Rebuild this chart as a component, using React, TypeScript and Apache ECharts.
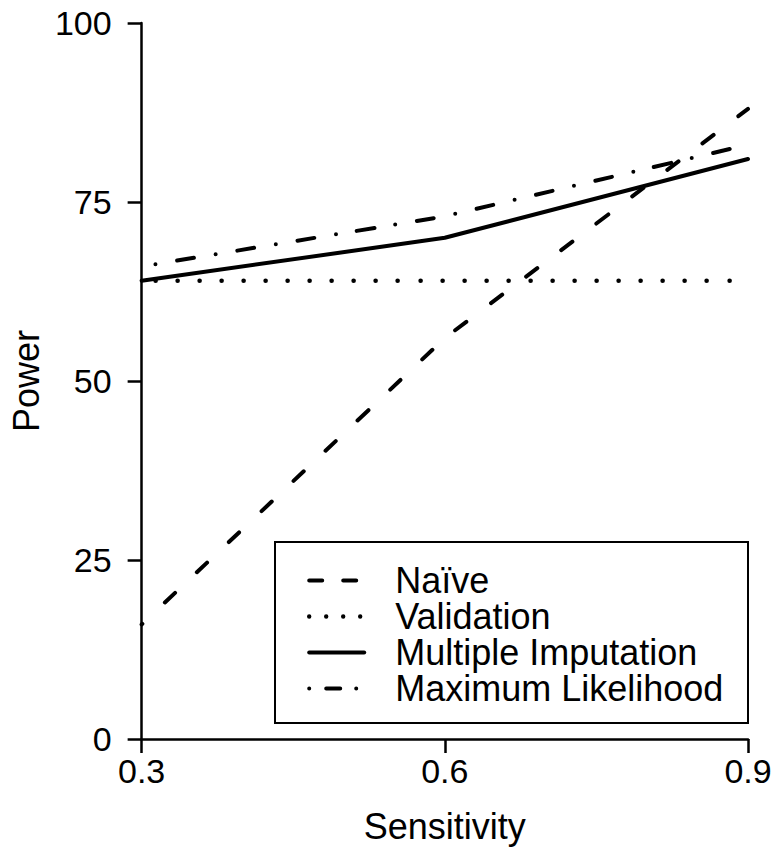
import React, { useEffect, useRef } from 'react';
import * as echarts from 'echarts';

const sensitivity = ['0.3', '0.6', '0.9'];
const naive = [16, 56, 88];
const validation = [64, 64, 64];
const multipleImputation = [64, 70, 81];
const maximumLikelihood = [66, 73, 83];
const yMin = 0;
const yMax = 100;
const yStep = 25;
const seriesNames = ['Naïve', 'Validation', 'Multiple Imputation', 'Maximum Likelihood'];

const FONT = '"Liberation Sans", Arial, Helvetica, sans-serif';
const LW = 4;

// Line-style helper: dash intervals (along the stroke) -> integer dash array + offset.
function dashFrom(intervals: number[][]) {
  const iv = intervals.map(([s, e]) => [Math.round(s), Math.round(e)]);
  const arr: number[] = [];
  for (let i = 0; i < iv.length; i++) {
    arr.push(iv[i][1] - iv[i][0]);
    arr.push(i < iv.length - 1 ? iv[i + 1][0] - iv[i][1] : 2000);
  }
  const T = arr.reduce((a, b) => a + b, 0);
  const offset = (((T - iv[0][0]) % T) + T) % T;
  return { type: arr, dashOffset: offset };
}

function repeatIntervals(first: number, period: number, parts: number[][], count: number) {
  const out: number[][] = [];
  for (let k = 0; k < count; k++) {
    const base = first + period * k;
    parts.forEach(([a, b]) => out.push([base + a, base + b]));
  }
  return out;
}

export default function App() {
  const ref = useRef<HTMLDivElement>(null);
  useEffect(() => {
    if (!ref.current) return;
    const chart = echarts.init(ref.current, null, { renderer: 'svg' });
    const axisLine = { show: true, lineStyle: { color: '#000', width: 2.5 } };
    const axisTick = { show: true, length: 14, lineStyle: { color: '#000', width: 2.5 } };
    const mkLine = (dash: any, width = LW) => ({
      color: '#000',
      width,
      dashOffset: 0,
      ...(dash === 'solid' ? { type: 'solid' } : dash),
      cap: 'round',
      join: 'round',
    });
    const plotStyles = [
      mkLine(dashFrom(repeatIntervals(-12.7, 44.3, [[0, 14.1]], 20))),
      mkLine(dashFrom(repeatIntervals(13.7, 22.07, [[0, 0]], 29)), 4.6),
      mkLine('solid'),
      mkLine(dashFrom(repeatIntervals(14.2, 60.8, [[0, 0], [21.75, 39.05]], 11))),
    ];
    const legendStyles = [
      mkLine({ type: [13, 21], dashOffset: 0 }),
      mkLine({ type: [0, 17], dashOffset: 0 }, 4.4),
      mkLine('solid'),
      mkLine({ type: [0, 17, 14, 16], dashOffset: 0 }),
    ];
    const values = [naive, validation, multipleImputation, maximumLikelihood];
    chart.setOption({
      animation: false,
      backgroundColor: '#fff',
      textStyle: { fontFamily: FONT, color: '#000' },
      grid: { left: 138, right: 27, top: 23, bottom: 111, containLabel: false },
      xAxis: {
        type: 'category',
        data: sensitivity,
        boundaryGap: false,
        axisLine,
        axisTick,
        axisLabel: { fontSize: 34, margin: 15, color: '#000', fontFamily: FONT },
        splitLine: { show: false },
        name: 'Sensitivity',
        nameLocation: 'middle',
        nameGap: 69,
        nameTextStyle: { fontSize: 36, color: '#000', fontFamily: FONT },
      },
      yAxis: {
        type: 'value',
        min: yMin,
        max: yMax,
        interval: yStep,
        axisLine,
        axisTick,
        axisLabel: { fontSize: 34, margin: 30, color: '#000', fontFamily: FONT },
        splitLine: { show: false },
        name: 'Power',
        nameLocation: 'middle',
        nameGap: 92,
        nameTextStyle: { fontSize: 36, color: '#000', fontFamily: FONT },
      },
      legend: {
        orient: 'vertical',
        left: 307,
        top: 562.5,
        padding: 0,
        itemGap: 0,
        itemWidth: 55,
        itemHeight: 14,
        selectedMode: false,
        lineStyle: { dashOffset: 0 },
        textStyle: {
          fontSize: 36,
          lineHeight: 35,
          color: '#000',
          fontFamily: FONT,
          padding: [0, 0, 0, 26],
        },
        data: seriesNames.map((name, i) => ({
          name,
          lineStyle: legendStyles[i],
          itemStyle: { opacity: 0, color: 'rgba(0,0,0,0)', borderWidth: 0 },
        })),
      },
      graphic: [
        {
          type: 'rect',
          z: 0,
          shape: { x: 275, y: 542, width: 473, height: 181 },
          style: { fill: '#fff', stroke: '#000', lineWidth: 2 },
        },
      ],
      series: seriesNames.map((name, i) => ({
        name,
        type: 'line',
        data: values[i],
        symbol: 'none',
        showSymbol: false,
        lineStyle: plotStyles[i],
        itemStyle: { color: '#000' },
        z: i === 2 ? 4 : 3,
      })),
    });
    return () => chart.dispose();
  }, []);
  return (
    <div
      ref={ref}
      style={{ position: 'fixed', left: 0, top: 0, width: 775, height: 850, background: '#fff' }}
    />
  );
}
